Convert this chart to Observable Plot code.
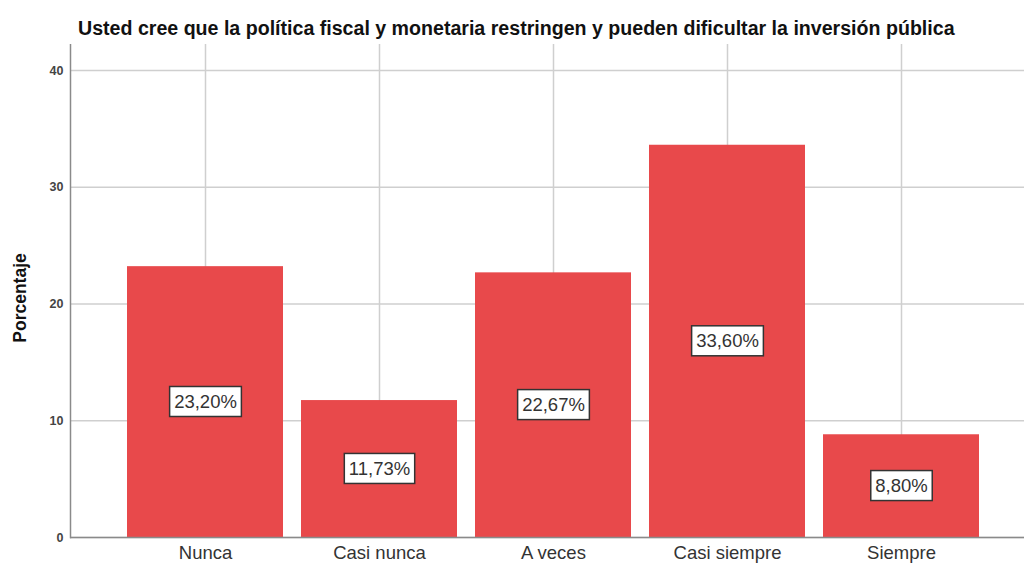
<!DOCTYPE html>
<html><head><meta charset="utf-8">
<script src="https://cdn.jsdelivr.net/npm/d3@7"></script>
<script src="https://cdn.jsdelivr.net/npm/@observablehq/plot@0.6"></script>
<style>
body{margin:0;background:#fff;font-family:"Liberation Sans",Arial,sans-serif;overflow:hidden;}
#title{height:44px;box-sizing:border-box;padding-top:17px;padding-left:78px;font-size:19.6px;font-weight:bold;line-height:22px;color:#111;white-space:nowrap;}
#chart svg{display:block;}
</style></head><body>
<div id="chart"><div id="title">Usted cree que la política fiscal y monetaria restringen y pueden dificultar la inversión pública</div></div>
<script>
const categories = ["Nunca", "Casi nunca", "A veces", "Casi siempre", "Siempre"];
const percentages = [23.20, 11.73, 22.67, 33.60, 8.80];
const labels = ["23,20%", "11,73%", "22,67%", "33,60%", "8,80%"];
const yTicks = [0, 10, 20, 30, 40];
const yLabel = "Porcentaje";

const data = categories.map((c, i) => ({category: c, value: percentages[i], label: labels[i]}));

const plot = Plot.plot({
  width: 1024, height: 520,
  marginTop: 0, marginBottom: 27, marginLeft: 70, marginRight: 0,
  style: {fontFamily: "Liberation Sans, Arial, sans-serif", background: "white"},
  x: {domain: categories, range: [118, 988], paddingInner: 0.1034, paddingOuter: 0.0517, label: null},
  y: {domain: [0, 42.23], label: null},
  marks: [
    Plot.gridY(yTicks, {stroke: "#cfcfcf", strokeOpacity: 1, strokeWidth: 1.5}),
    Plot.gridX(categories, {stroke: "#cfcfcf", strokeOpacity: 1, strokeWidth: 1.5}),
    Plot.barY(data, {x: "category", y: "value", fill: "#e8494b"}),
    Plot.ruleY([0], {stroke: "#8a8a8a", strokeWidth: 1.5}),
    Plot.frame({anchor: "left", stroke: "#8a8a8a", strokeWidth: 1.5}),
    Plot.axisY(yTicks, {tickSize: 0, tickPadding: 7, fontSize: 12.5, fontWeight: "bold", fill: "#444", label: null}),
    Plot.axisX({tickSize: 0, tickPadding: 8, fontSize: 18.5, fill: "#333", label: null}),
    Plot.text([yLabel], {frameAnchor: "left", textAnchor: "middle", dx: -50, dy: 7, rotate: -90, fontSize: 17.5, fontWeight: "bold", fill: "#111"}),
    Plot.text(data, {x: "category", y: d => d.value / 2, text: "label", fontSize: 18.5, fill: "#333"})
  ]
});
document.getElementById("chart").appendChild(plot);

// add boxed background behind the bar value labels
const groups = plot.querySelectorAll('g[aria-label="text"]');
const labelGroup = groups[groups.length - 1];
labelGroup.querySelectorAll("text").forEach(t => {
  const b = t.getBBox();
  const ctm = t.getAttribute("transform");
  const r = document.createElementNS("http://www.w3.org/2000/svg", "rect");
  r.setAttribute("x", b.x - 4.5);
  r.setAttribute("y", b.y - 4.5);
  r.setAttribute("width", b.width + 9);
  r.setAttribute("height", b.height + 9);
  r.setAttribute("fill", "white");
  r.setAttribute("stroke", "#333");
  r.setAttribute("stroke-width", "1.5");
  if (ctm) r.setAttribute("transform", ctm);
  t.parentNode.insertBefore(r, t);
});
</script>
</body></html>
